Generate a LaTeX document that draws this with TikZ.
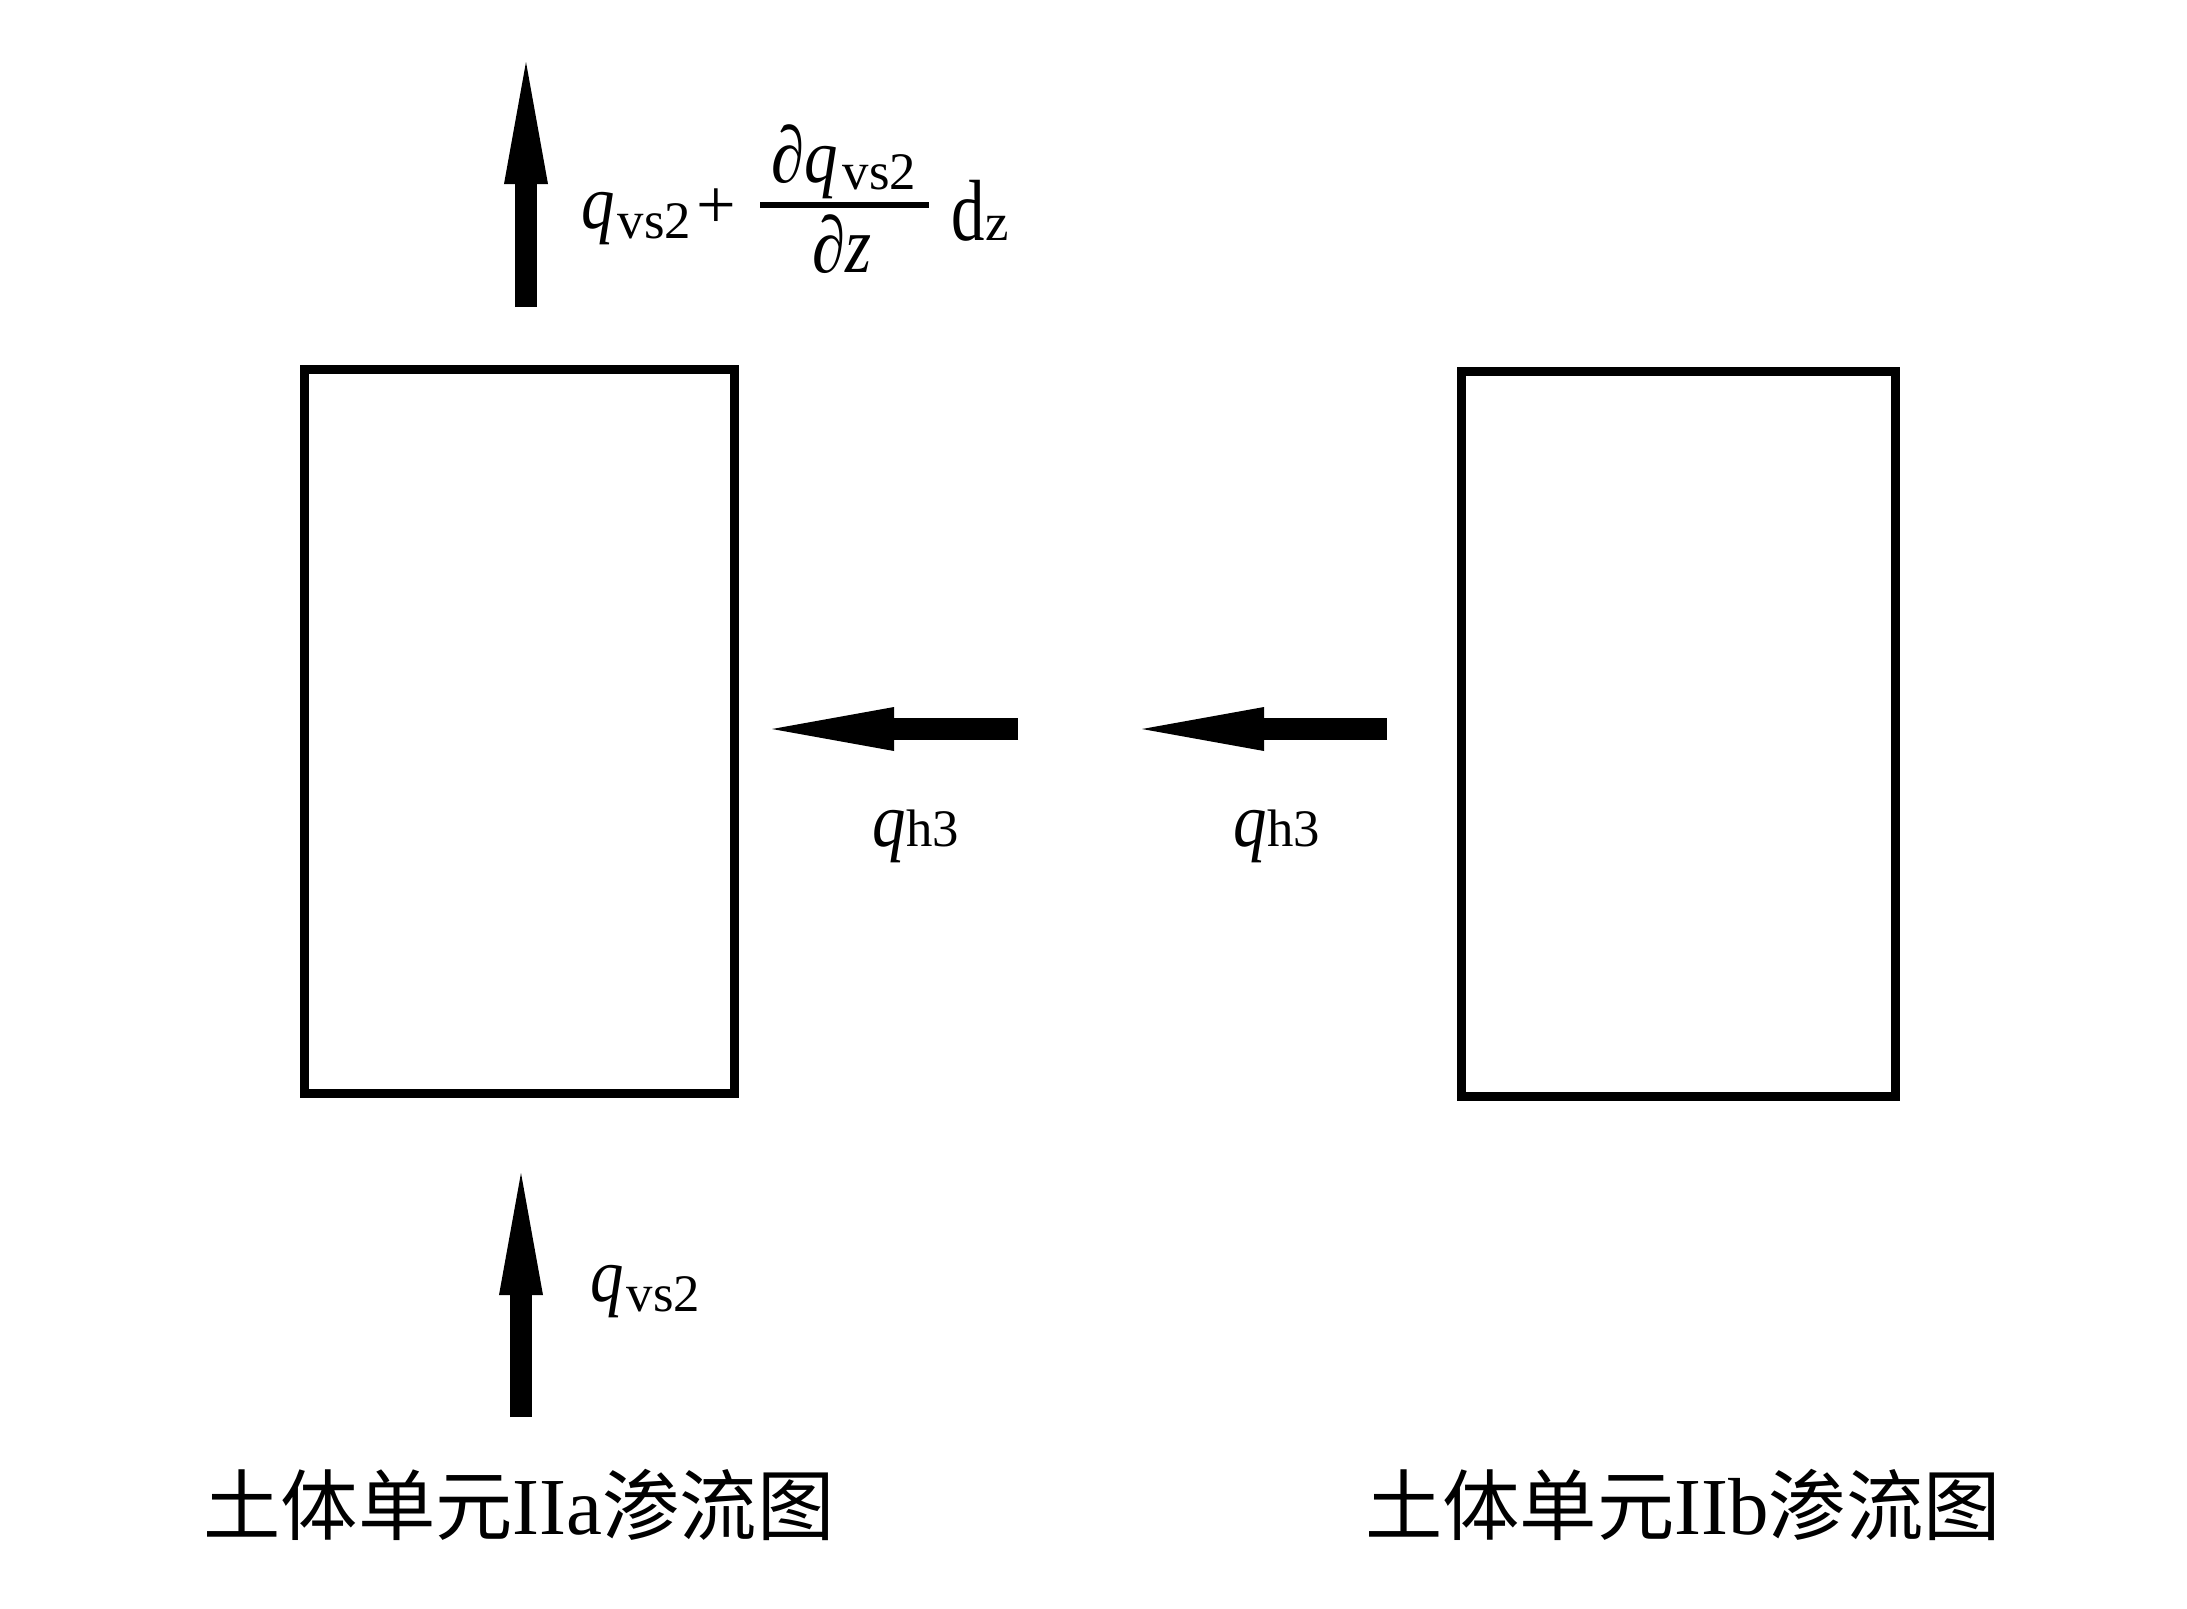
\documentclass[tikz,border=0pt]{standalone}
\usepackage{fontspec}
\usepackage{graphicx}
\setmainfont{Liberation Serif}
\newfontfamily\cjk{Noto Sans CJK SC}
\usetikzlibrary{arrows.meta}
\newcommand\mq{\scalebox{1}[1.15]{\fontsize{19}{22}\selectfont\itshape q}}
\newcommand\msub[1]{{\fontsize{15}{18}\selectfont #1}}
\newcommand\pd{\scalebox{1}[1.2]{\fontsize{19}{22}\selectfont\itshape ∂}}
\newcommand\capt[1]{{\cjk 土体单元}{\fontsize{23}{26}\selectfont #1}{\cjk 渗流图}}
\begin{document}
\begin{tikzpicture}[x=0.01cm,y=-0.01cm,
  box/.style={draw,line width=0.09cm,inner sep=0pt},
  flow/.style={line width=0.22cm,-{Triangle[length=1.22cm,width=0.44cm,line width=0pt]}},
  lbl/.style={anchor=base west,inner sep=0pt},
  captext/.style={anchor=center,inner sep=0pt,font=\fontsize{22}{26}\selectfont}]
\useasboundingbox (0,0) rectangle (2187,1608);
% boxes
\node[box,minimum width=4.29cm,minimum height=7.23cm] (A) at (519.5,731.5) {};
\node[box,minimum width=4.33cm,minimum height=7.24cm] (B) at (1678.5,734) {};
% arrows
\coordinate (t0) at (526,307);  \coordinate (t1) at (526,62);
\coordinate (b0) at (521,1417); \coordinate (b1) at (521,1173);
\coordinate (h0) at (1018,729); \coordinate (h1) at (772,729);
\coordinate (k0) at (1387,729); \coordinate (k1) at (1142,729);
\draw[flow] (t0) -- (t1);
\draw[flow] (b0) -- (b1);
\draw[flow] (h0) -- (h1);
\draw[flow] (k0) -- (k1);
% top formula
\node[lbl] (q1) at (581,228) {\mq};
\node[lbl] (q1s) at (617,238) {\msub{vs2}};
\node[lbl] (plus) at (696,228) {\fontsize{20}{22}\selectfont +};
\coordinate (bar0) at (760,205); \coordinate (bar1) at (929,205);
\draw[line width=0.06cm] (bar0) -- (bar1);
\node[lbl] (num) at (771,182) {\pd\mq};
\node[lbl] (nums) at (842,189) {\msub{vs2}};
\node[lbl] (den) at (812,272) {\pd\scalebox{1}[1.2]{\fontsize{19}{22}\selectfont\itshape z}};
\node[lbl] (dz) at (951,240) {\scalebox{1}[1.3]{\fontsize{19}{22}\selectfont d}\msub{z}};
% bottom label
\node[lbl] (q2) at (590,1301) {\mq};
\node[lbl] (q2s) at (626,1311) {\msub{vs2}};
% horizontal labels
\node[lbl] (q3) at (872,846) {\mq\msub{h3}};
\node[lbl] (q4) at (1233,846) {\mq\msub{h3}};
% captions
\node[captext] (c1) at (519,1505) {\capt{IIa}};
\node[captext] (c2) at (1683,1505) {\capt{IIb}};
\end{tikzpicture}
\end{document}
